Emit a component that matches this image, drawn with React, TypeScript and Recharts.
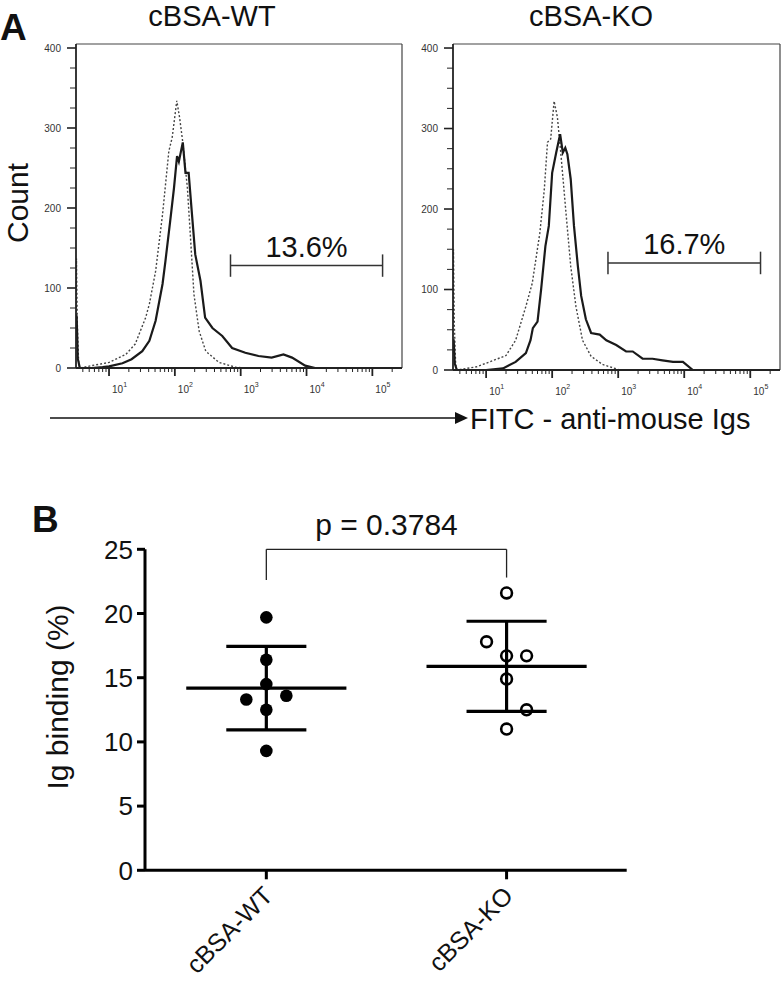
import React from "react";
import { LineChart, Line, XAxis, YAxis, ReferenceLine, ComposedChart, Scatter } from "recharts";

// ---- Panel A: FITC histograms, [intensity, count]
const panelTitles = ["cBSA-WT", "cBSA-KO"];
const gateLabels = ["13.6%", "16.7%"];
const gateRange = [700, 143000];
const gateCounts = [128, 133];

const wtStained: [number, number][] = [
  [3.15, 40], [3.22, 66], [3.35, 12], [3.6, 0], [5.5, 0], [8, 1], [10, 2], [16, 6], [22, 11],
  [32, 21], [41, 34], [51, 59], [65, 105], [72, 134], [85, 184], [97, 225], [108, 265],
  [115, 258], [132, 282], [145, 244], [162, 244], [182, 192], [204, 142], [245, 109],
  [288, 63], [372, 50], [525, 40], [741, 25], [1175, 19], [1862, 15], [2951, 13],
  [4467, 17], [6026, 13], [9550, 3], [13500, 0],
];
const wtControl: [number, number][] = [
  [3.15, 50], [3.2, 137], [3.3, 55], [3.45, 8], [3.6, 0], [5.5, 3], [10, 7], [18, 17],
  [25, 30], [36, 63], [41, 80], [51, 121], [65, 192], [81, 271], [91, 288], [107, 334],
  [118, 313], [132, 282], [155, 225], [174, 159], [195, 92], [234, 46], [295, 21],
  [468, 7], [832, 1], [1100, 0],
];
const koStained: [number, number][] = [
  [3.15, 20], [3.22, 38], [3.35, 8], [3.6, 0], [10, 0], [18, 2], [28, 10], [40, 21],
  [47, 37], [51, 52], [60, 60], [68, 100], [79, 154], [89, 179], [100, 245], [115, 270],
  [132, 293], [145, 270], [158, 276], [170, 268], [191, 237], [214, 179], [245, 129],
  [275, 92], [324, 63], [389, 46], [525, 44], [661, 37], [933, 31], [1318, 23],
  [1660, 23], [2344, 14], [3311, 14], [4677, 12], [6761, 10], [9550, 10], [13500, 0],
];
const koControl: [number, number][] = [
  [3.15, 60], [3.2, 150], [3.3, 55], [3.45, 8], [3.6, 0], [7.2, 4], [13, 12], [20, 18],
  [28, 37], [40, 79], [50, 108], [65, 170], [76, 224], [85, 283], [95, 287], [107, 334],
  [120, 314], [135, 270], [162, 195], [191, 129], [229, 79], [288, 37], [389, 17],
  [575, 7], [1050, 0],
];

const flDomain = [3.15, 282000];
const countMax = 405;
const countTicks = [0, 25, 50, 75, 100, 125, 150, 175, 200, 225, 250, 275, 300, 325, 350, 375, 400];
const decades = [10, 100, 1000, 10000, 100000];
const decadeExp = ["1", "2", "3", "4", "5"];
const mantissas = [1, 2, 3, 4, 5, 6, 7, 8, 9];
const flTicks = [1, 10, 100, 1000, 10000, 100000]
  .flatMap((d) => mantissas.map((m) => m * d))
  .filter((v) => v >= flDomain[0] && v <= flDomain[1]);

// ---- Panel B: Ig binding (%) per mouse
const groups = ["cBSA-WT", "cBSA-KO"];
const wtBinding = [19.7, 16.4, 14.5, 13.3, 13.6, 12.5, 9.3];
const wtSide = [0, 0, 0, -1, 1, 0, 0];
const koBinding = [21.6, 17.8, 16.7, 16.7, 14.9, 12.5, 11.0];
const koSide = [0, -1, 0, 1, 0, 1, 0];
const bindingTicks = [0, 5, 10, 15, 20, 25];
const pLabel = "p = 0.3784";

const FONT = "Arial, 'Liberation Sans', Helvetica, sans-serif";

const mean = (a: number[]) => a.reduce((s, v) => s + v, 0) / a.length;
const sd = (a: number[]) => {
  const m = mean(a);
  return Math.sqrt(a.reduce((s, v) => s + (v - m) ** 2, 0) / (a.length - 1));
};
const toPoints = (d: [number, number][]) => d.map(([fl, count]) => ({ fl, count }));

const LogTick = (props: any) => {
  const { x, y, payload } = props;
  const i = decades.indexOf(payload.value);
  const major = i >= 0;
  return (
    <g>
      <line x1={x} x2={x} y1={y} y2={y + (major ? 8 : 4)} stroke="#222" strokeWidth={major ? 1.8 : 1} />
      {major && (
        <text x={x + 3} y={y + 25} fontSize={10} fill="#333" fontFamily={FONT}>
          10
          <tspan dy={-6} fontSize={7}>
            {decadeExp[i]}
          </tspan>
        </text>
      )}
    </g>
  );
};

const CountTick = (props: any) => {
  const { x, y, payload } = props;
  const major = payload.value % 100 === 0;
  return (
    <g>
      <line x1={x} x2={x - (major ? 9 : 6)} y1={y} y2={y} stroke="#222" strokeWidth={major ? 1.6 : 1} />
      {major && (
        <text x={x - 15} y={y} dy="0.35em" textAnchor="end" fontSize={10} fill="#333" fontFamily={FONT}>
          {payload.value}
        </text>
      )}
    </g>
  );
};

function Histogram(props: {
  stained: [number, number][];
  control: [number, number][];
  idx: number;
  width: number;
  height: number;
  axisWidth: number;
  right: number;
}) {
  const { stained, control, idx, width, height, axisWidth, right } = props;
  const g = gateCounts[idx];
  return (
    <LineChart width={width} height={height} margin={{ top: 44, right, bottom: 2, left: 0 }}>
      <XAxis
        dataKey="fl"
        type="number"
        scale="log"
        domain={flDomain}
        allowDataOverflow
        ticks={flTicks}
        interval={0}
        tick={<LogTick />}
        tickLine={false}
        tickSize={0}
        tickMargin={0}
        height={30}
        axisLine={{ stroke: "#222", strokeWidth: 1.8 }}
      />
      <YAxis
        type="number"
        domain={[0, countMax]}
        allowDataOverflow
        ticks={countTicks}
        interval={0}
        tick={<CountTick />}
        tickLine={false}
        tickSize={0}
        tickMargin={0}
        width={axisWidth}
        axisLine={{ stroke: "#222", strokeWidth: 1.8 }}
      />
      <ReferenceLine y={countMax} stroke="#444" strokeWidth={1.2} />
      <ReferenceLine x={flDomain[1]} stroke="#444" strokeWidth={1.2} />
      <Line
        data={toPoints(control)}
        dataKey="count"
        type="linear"
        stroke="#444"
        strokeWidth={1.4}
        strokeDasharray="2 2"
        dot={false}
        isAnimationActive={false}
      />
      <Line
        data={toPoints(stained)}
        dataKey="count"
        type="linear"
        stroke="#1a1a1a"
        strokeWidth={2.2}
        dot={false}
        isAnimationActive={false}
      />
      <ReferenceLine
        segment={[
          { x: gateRange[0], y: g },
          { x: gateRange[1], y: g },
        ]}
        stroke="#333"
        strokeWidth={1.5}
        label={{ value: gateLabels[idx], position: "top", offset: 9, fontSize: 29, fill: "#111", fontFamily: FONT }}
      />
      {gateRange.map((fl) => (
        <ReferenceLine
          key={fl}
          segment={[
            { x: fl, y: g - 14 },
            { x: fl, y: g + 14 },
          ]}
          stroke="#333"
          strokeWidth={1.5}
        />
      ))}
    </LineChart>
  );
}

const GroupTick = (props: any) => {
  const { x, y, payload } = props;
  const ax = x + 8;
  const ay = y + 27;
  return (
    <g>
      <line x1={x} x2={x} y1={y} y2={y + 9} stroke="#000" strokeWidth={3} />
      <text
        x={ax}
        y={ay}
        textAnchor="end"
        transform={`rotate(-45 ${ax} ${ay})`}
        fontSize={25}
        fill="#111"
        fontFamily={FONT}
      >
        {groups[payload.value]}
      </text>
    </g>
  );
};

const BindingTick = (props: any) => {
  const { x, y, payload } = props;
  return (
    <g>
      <line x1={x} x2={x - 8} y1={y} y2={y} stroke="#000" strokeWidth={3} />
      <text x={x - 12} y={y} dy="0.36em" textAnchor="end" fontSize={26} fill="#111" fontFamily={FONT}>
        {payload.value}
      </text>
    </g>
  );
};

const filledDot = (p: any) => <circle cx={p.cx} cy={p.cy} r={6.3} fill="#000" />;
const openDot = (p: any) => <circle cx={p.cx} cy={p.cy} r={5.4} fill="none" stroke="#000" strokeWidth={2.6} />;

function DotPlot() {
  const spread = 1 / 12;
  const sets = [
    { vals: wtBinding, side: wtSide },
    { vals: koBinding, side: koSide },
  ];
  const points = sets.map((s, gi) => s.vals.map((v, i) => ({ x: gi + s.side[i] * spread, y: v })));
  const bar = { stroke: "#000", strokeWidth: 3.2 };
  return (
    <ComposedChart width={784} height={501} margin={{ top: 69.3, right: 157.3, bottom: 10.7, left: 0 }}>
      <XAxis
        dataKey="x"
        type="number"
        domain={[-0.505, 1.5]}
        ticks={[0, 1]}
        interval={0}
        tick={<GroupTick />}
        tickLine={false}
        tickSize={0}
        tickMargin={0}
        height={100}
        axisLine={{ stroke: "#000", strokeWidth: 3 }}
      />
      <YAxis
        dataKey="y"
        type="number"
        domain={[0, 25]}
        ticks={bindingTicks}
        interval={0}
        tick={<BindingTick />}
        tickLine={false}
        tickSize={0}
        tickMargin={0}
        width={145}
        axisLine={{ stroke: "#000", strokeWidth: 3 }}
      />
      {sets.map((s, gi) => {
        const m = mean(s.vals);
        const e = sd(s.vals);
        return (
          <React.Fragment key={gi}>
            <ReferenceLine segment={[{ x: gi - 1 / 3, y: m }, { x: gi + 1 / 3, y: m }]} {...bar} />
            <ReferenceLine segment={[{ x: gi, y: m - e }, { x: gi, y: m + e }]} {...bar} />
            <ReferenceLine segment={[{ x: gi - 1 / 6, y: m + e }, { x: gi + 1 / 6, y: m + e }]} {...bar} />
            <ReferenceLine segment={[{ x: gi - 1 / 6, y: m - e }, { x: gi + 1 / 6, y: m - e }]} {...bar} />
          </React.Fragment>
        );
      })}
      <Scatter data={points[0]} shape={filledDot} isAnimationActive={false} />
      <Scatter data={points[1]} shape={openDot} isAnimationActive={false} />
      <ReferenceLine
        segment={[{ x: 0, y: 25 }, { x: 1, y: 25 }]}
        stroke="#222"
        strokeWidth={1.3}
        ifOverflow="visible"
        label={{ value: pLabel, position: "top", offset: 14, fontSize: 30, fill: "#111", fontFamily: FONT }}
      />
      <ReferenceLine segment={[{ x: 0, y: 25 }, { x: 0, y: 22.6 }]} stroke="#222" strokeWidth={1.3} />
      <ReferenceLine segment={[{ x: 1, y: 25 }, { x: 1, y: 22.8 }]} stroke="#222" strokeWidth={1.3} />
    </ComposedChart>
  );
}

export default function App() {
  return (
    <div style={{ position: "absolute", left: 0, top: 0, width: 784, height: 981, background: "#fff", fontFamily: FONT }}>
      <div style={{ position: "absolute", left: 0, top: 0 }}>
        <Histogram stained={wtStained} control={wtControl} idx={0} width={410} height={400} axisWidth={76} right={8} />
      </div>
      <div style={{ position: "absolute", left: 400, top: 0 }}>
        <Histogram stained={koStained} control={koControl} idx={1} width={384} height={402} axisWidth={53} right={4} />
      </div>
      <div style={{ position: "absolute", left: 0, top: 480 }}>
        <DotPlot />
      </div>
      <svg width={784} height={981} style={{ position: "absolute", left: 0, top: 0, pointerEvents: "none" }}>
        <g fontFamily={FONT} fill="#111">
          <text x={0} y={40} fontSize={37} fontWeight="bold">A</text>
          <text x={212} y={26} fontSize={29} textAnchor="middle">{panelTitles[0]}</text>
          <text x={591} y={26} fontSize={29} textAnchor="middle">{panelTitles[1]}</text>
          <text x={28} y={203} fontSize={30} textAnchor="middle" transform="rotate(-90 28 203)">Count</text>
          <line x1={50} y1={418} x2={456} y2={418} stroke="#111" strokeWidth={1.6} />
          <polygon points="455,412 468,418 455,424" fill="#111" />
          <text x={470} y={429} fontSize={29}>FITC - anti-mouse Igs</text>
          <text x={32} y={532} fontSize={37} fontWeight="bold">B</text>
          <text x={68} y={697} fontSize={30} textAnchor="middle" transform="rotate(-90 68 697)">Ig binding (%)</text>
        </g>
      </svg>
    </div>
  );
}
